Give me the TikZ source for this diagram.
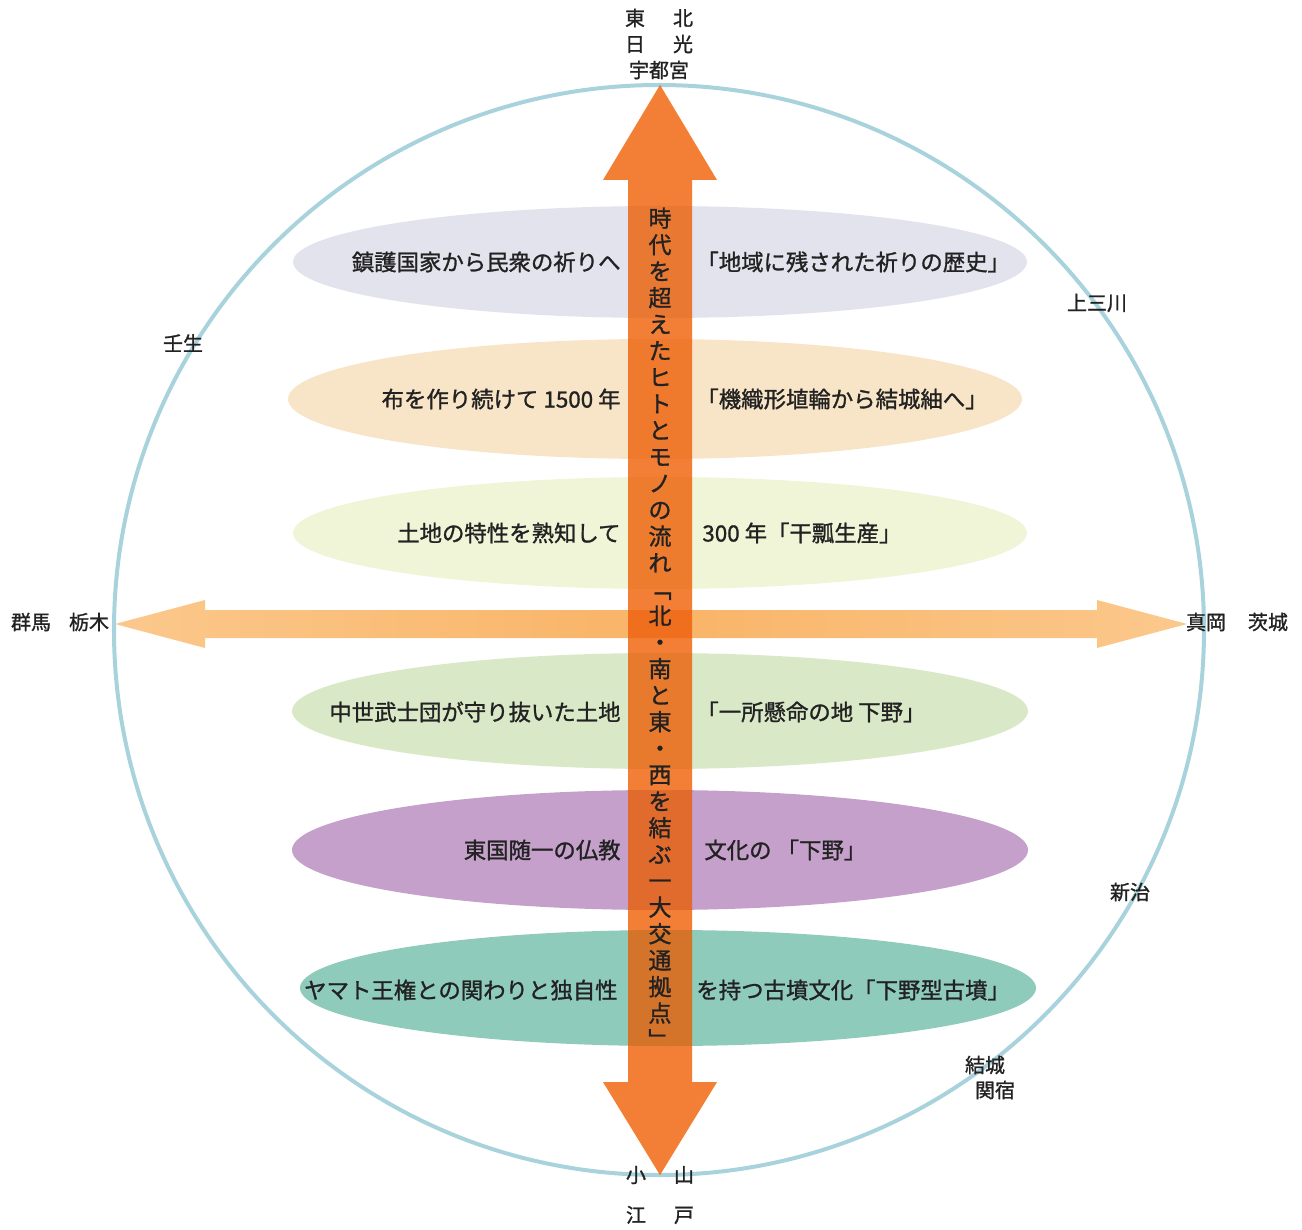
\documentclass[tikz,border=0pt]{standalone}
\usepackage{fontspec}
\newfontfamily\jp[FakeBold=1.2]{Noto Sans CJK JP}
\usetikzlibrary{shapes.geometric}
\definecolor{ringc}{HTML}{A9D3DC}
\definecolor{eA}{HTML}{E3E3ED}
\definecolor{eB}{HTML}{F8E5C8}
\definecolor{eC}{HTML}{F0F5D8}
\definecolor{eD}{HTML}{D9E8C6}
\definecolor{eE}{HTML}{C4A0CB}
\definecolor{eF}{HTML}{8FCBBB}
\definecolor{varrow}{HTML}{F58A28}
\definecolor{harrow}{HTML}{F9B467}
\definecolor{harrowtip}{HTML}{FBC88C}
\definecolor{txt}{HTML}{222222}
\tikzset{
  ltxt/.style={anchor=east, inner sep=0pt, text=txt, font=\jp\fontsize{11.2}{13}\selectfont},
  rtxt/.style={anchor=west, inner sep=0pt, text=txt, font=\jp\fontsize{11.2}{13}\selectfont},
  place/.style={inner sep=0pt, text=txt, font=\jp\fontsize{10}{12}\selectfont},
  varrowshape/.style={fill=varrow},
}
\begin{document}
\begin{tikzpicture}[x=0.5pt, y=-0.5pt]
\useasboundingbox (0,0) rectangle (1302,1230);
% ring
\draw[ringc, line width=2pt] (659,630) circle [radius=545];
% ellipses
\fill[eA] (660,262) ellipse [x radius=367, y radius=56];
\fill[eB] (655,399) ellipse [x radius=367, y radius=60];
\fill[eC] (660,533) ellipse [x radius=367, y radius=56];
\fill[eD] (660,711) ellipse [x radius=368, y radius=58];
\fill[eE] (660,850) ellipse [x radius=368, y radius=60];
\fill[eF] (668,988) ellipse [x radius=368, y radius=58];
% horizontal arrow
\shade[left color=harrowtip, right color=harrowtip, middle color=harrow]
  (115,624) -- (205,600) -- (205,610) -- (1097,610) -- (1097,600)
  -- (1187,624) -- (1097,648) -- (1097,638) -- (205,638) -- (205,648) -- cycle;
% vertical arrow (two layers for a semi-multiplied look)
\def\varrowpath{(660,85) -- (717,180) -- (692,180) -- (692,1082) -- (717,1082)
  -- (660,1175) -- (603,1082) -- (628,1082) -- (628,180) -- (603,180) -- cycle}
\fill[varrowshape, fill opacity=0.72] \varrowpath;
\begin{scope}[blend mode=multiply]
\fill[varrowshape, fill opacity=0.55] \varrowpath;
\end{scope}
% vertical text
\node[inner sep=0pt, align=center, text=txt, font=\jp\fontsize{11.5}{13.25}\selectfont] (vt) at (660,628)
 {時\\代\\を\\超\\え\\た\\ヒ\\ト\\と\\モ\\ノ\\の\\流\\れ\\﹁\\北\\・\\南\\と\\東\\・\\西\\を\\結\\ぶ\\一\\大\\交\\通\\拠\\点\\﹂};
% ellipse texts
\node[ltxt] (l1) at (621,262) {鎮護国家から民衆の祈りへ};
\node[rtxt] (r1) at (696,262) {「地域に残された祈りの歴史」};
\node[ltxt] (l2) at (621,399) {布を作り続けて 1500 年};
\node[rtxt] (r2) at (696,399) {「機織形埴輪から結城紬へ」};
\node[ltxt] (l3) at (621,533) {土地の特性を熟知して};
\node[rtxt] (r3) at (702,533) {300 年「干瓢生産」};
\node[ltxt] (l4) at (621,712) {中世武士団が守り抜いた土地};
\node[rtxt] (r4) at (696,712) {「一所懸命の地 下野」};
\node[ltxt] (l5) at (621,850) {東国随一の仏教};
\node[rtxt] (r5) at (704,850) {文化の 「下野」};
\node[ltxt] (l6) at (618,990) {ヤマト王権との関わりと独自性};
\node[rtxt] (r6) at (696,990) {を持つ古墳文化「下野型古墳」};
% place labels
\node[place] (p1) at (659,18) {東\hspace{14pt}北};
\node[place] (p2) at (659,44) {日\hspace{14pt}光};
\node[place] (p3) at (659,70) {宇都宮};
\node[place] (p4) at (660,1175) {小\hspace{14pt}山};
\node[place] (p5) at (660,1215) {江\hspace{14pt}戸};
\node[place] (p6) at (31,622) {群馬};
\node[place] (p7) at (89,622) {栃木};
\node[place] (p8) at (1206,622) {真岡};
\node[place] (p9) at (1268,622) {茨城};
\node[place] (p10) at (1097,303) {上三川};
\node[place] (p11) at (183,343) {壬生};
\node[place] (p12) at (1130,892) {新治};
\node[place] (p13) at (985,1065) {結城};
\node[place] (p14) at (995,1090) {関宿};
\end{tikzpicture}
\end{document}
